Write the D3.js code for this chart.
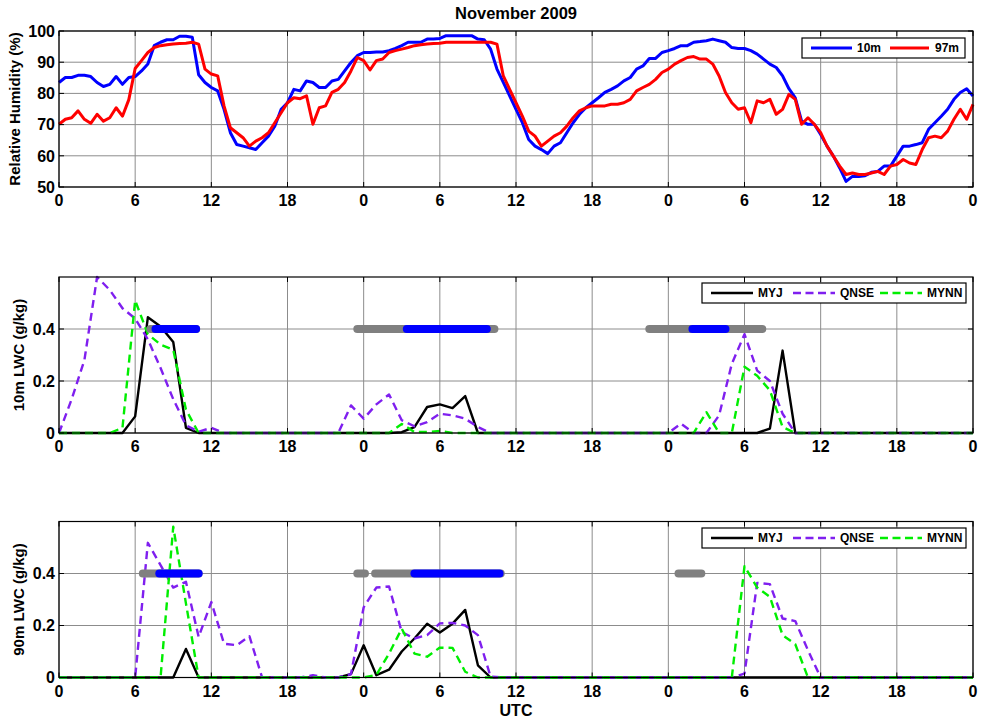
<!DOCTYPE html>
<html>
<head>
<meta charset="utf-8">
<script src="https://cdn.jsdelivr.net/npm/d3@7"></script>
<style>
  body { margin: 0; background: #fff; }
  svg { display: block; font-family: "Liberation Sans", Arial, sans-serif; font-weight: bold; }
</style>
</head>
<body>
<svg id="chart" width="981" height="719"></svg>
<script>
// ---- Data -------------------------------------------------------------
// Hour ticks over the three-day period (labels wrap at 24 h)
const hourTicks = [0, 6, 12, 18, 24, 30, 36, 42, 48, 54, 60, 66, 72];
const rhTicks = [50, 60, 70, 80, 90, 100];
const lwcTicks = [0, 0.2, 0.4];

// Relative humidity, half-hourly samples from hour 0 to 72
const rhHours = d3.range(0, 72.5, 0.5);
const rh10m = [
  83.5,85.1,85.1,85.8,85.8,85.4,83.5,82.2,82.9,85.4,82.9,85.1,
  85.4,87.2,89.4,95.3,96.4,97.2,97.2,98.3,98.3,98.0,86.0,83.5,
  81.9,80.8,74.9,67.4,63.6,63.1,62.6,62.0,64.2,66.3,69.5,74.9,
  77.0,81.3,80.8,84.0,83.5,81.9,81.9,84.0,84.5,87.2,89.9,92.1,
  93.1,93.1,93.3,93.3,93.7,94.4,95.3,96.4,96.4,96.4,97.4,97.4,
  97.6,98.5,98.5,98.5,98.5,98.5,97.4,97.2,94.2,87.8,83.5,79.2,
  74.9,70.6,65.2,63.1,62.0,60.7,63.1,64.2,67.4,70.6,73.3,75.4,
  77.0,78.6,80.3,81.3,82.4,84.0,85.1,87.8,88.8,91.2,91.2,93.1,
  93.7,94.4,95.3,95.3,96.4,96.6,96.9,97.4,96.9,96.4,94.7,94.4,
  94.4,93.7,92.6,91.0,89.4,88.3,85.6,81.5,78.6,71.1,70.1,70.1,
  66.8,63.1,59.9,56.1,51.8,53.4,53.4,53.6,54.7,55.0,56.7,56.7,
  59.9,63.1,63.1,63.6,64.2,68.5,70.6,72.7,74.9,78.1,80.3,81.5,
  79.2
];
const rh97m = [
  70.1,71.7,72.2,74.4,71.7,70.4,73.3,71.1,72.2,75.4,72.7,78.0,
  88.0,90.5,93.1,94.7,95.3,95.6,95.8,96.0,96.1,96.4,95.8,87.8,
  86.2,85.6,76.0,69.0,67.4,65.8,63.1,64.7,65.8,67.4,70.6,73.8,
  77.0,78.6,78.3,79.2,70.1,75.4,76.0,80.3,81.3,83.5,87.2,91.5,
  90.5,87.5,90.5,91.0,93.1,93.7,94.2,94.7,95.3,95.6,95.8,96.0,
  96.1,96.4,96.4,96.4,96.4,96.4,96.4,96.4,96.4,95.8,85.6,81.3,
  77.0,72.7,67.9,66.3,63.1,64.7,66.3,67.4,69.5,72.2,74.4,75.4,
  76.0,76.0,76.0,76.5,76.5,77.0,78.1,80.8,81.9,82.9,84.5,86.7,
  87.8,89.4,90.5,91.5,91.8,91.0,91.0,89.4,85.6,80.3,77.0,74.9,
  75.4,70.6,77.6,77.0,78.1,73.3,74.9,79.7,78.1,70.1,72.2,70.1,
  67.4,63.1,59.9,56.7,54.0,54.5,54.0,54.0,54.5,55.0,54.0,56.7,
  57.2,58.8,57.7,57.2,62.0,65.8,66.3,65.8,67.9,71.7,74.9,71.7,
  76.5
];

// Modelled liquid water content (g/kg), hourly from hour 0 to 72
const lwcHours = d3.range(0, 73);
const myj10 = [
  0,0,0,0,0,0,0.064,0.445,0.41,0.35,0.02,0,
  0,0,0,0,0,0,0,0,0,0,0,0,
  0,0,0,0.003,0.023,0.10,0.11,0.096,0.142,0,0,0,
  0,0,0,0,0,0,0,0,0,0,0,0,
  0,0,0,0,0,0,0,0,0.017,0.317,0,0,
  0,0,0,0,0,0,0,0,0,0,0,0,
  0
];
const qnse10 = [
  0,0.13,0.28,0.60,0.55,0.48,0.44,0.36,0.25,0.13,0.03,0.005,
  0.02,0,0,0,0,0,0,0,0,0,0,0.106,
  0.055,0.11,0.148,0.049,0.026,0.042,0.074,0.068,0.055,0.023,0,0,
  0,0,0,0,0,0,0,0,0,0,0,0,
  0,0.036,0,0,0.068,0.266,0.38,0.24,0.2,0.074,0,0,
  0,0,0,0,0,0,0,0,0,0,0,0,
  0
];
const mynn10 = [
  0,0,0,0,0,0.02,0.51,0.38,0.34,0.32,0.09,0,
  0,0,0,0,0,0,0,0,0,0,0,0,
  0,0,0,0.035,0.004,0.004,0.008,0,0,0,0,0,
  0,0,0,0,0,0,0,0,0,0,0,0,
  0,0,0,0.08,0,0,0.255,0.22,0.164,0.023,0,0,
  0,0,0,0,0,0,0,0,0,0,0,0,
  0
];
const myj90 = [
  0,0,0,0,0,0,0,0,0,0,0.11,0,
  0,0,0,0,0,0,0,0,0,0,0,0.013,
  0.124,0.009,0.03,0.10,0.15,0.207,0.173,0.207,0.26,0.047,0,0,
  0,0,0,0,0,0,0,0,0,0,0,0,
  0,0,0,0,0,0,0,0,0,0,0,0,
  0,0,0,0,0,0,0,0,0,0,0,0,
  0
];
const qnse90 = [
  0,0,0,0,0,0,0,0.518,0.432,0.346,0.368,0.156,
  0.29,0.13,0.124,0.159,0,0,0,0,0.009,0,0,0.013,
  0.27,0.346,0.35,0.175,0.15,0.163,0.208,0.21,0.2,0.163,0.003,0,
  0,0,0,0,0,0,0,0,0,0,0,0,
  0,0,0,0,0,0,0.015,0.364,0.359,0.227,0.217,0.105,
  0,0,0,0,0,0,0,0,0,0,0,0,
  0
];
const mynn90 = [
  0,0,0,0,0,0,0,0,0,0.58,0.285,0,
  0,0,0,0,0,0,0,0,0,0,0,0,
  0,0.01,0.092,0.188,0.092,0.08,0.115,0.114,0.022,0,0,0,
  0,0,0,0,0,0,0,0,0,0,0,0,
  0,0,0,0,0,0,0.428,0.346,0.31,0.163,0.128,0,
  0,0,0,0,0,0,0,0,0,0,0,0,
  0
];

// Observed fog periods (hours), drawn as bars at 0.4 g/kg
const fogLevel = 0.4;
const fog10Gray = [[7.2, 10.8], [23.5, 34.3], [46.5, 55.4]];
const fog10Blue = [[7.6, 10.8], [27.4, 33.7], [49.9, 52.5]];
const fog90Gray = [[6.6, 11.0], [23.5, 24.1], [24.9, 34.8], [48.8, 50.6]];
const fog90Blue = [[7.9, 11.0], [28.0, 34.7]];

// ---- Layout -------------------------------------------------------------
const svg = d3.select("#chart");
const left = 59, right = 973;
const x = d3.scaleLinear().domain([0, 72]).range([left, right]);

const panels = [
  { top: 31, bottom: 187, domain: [50, 100], ticks: rhTicks, fmt: d => d,
    label: "Relative Humidity (%)", labelX: 15 },
  { top: 277, bottom: 433, domain: [0, 0.6], ticks: lwcTicks, fmt: d => (d === 0 ? "0" : d.toFixed(1)),
    label: "10m LWC (g/kg)", labelX: 19 },
  { top: 521.5, bottom: 677.5, domain: [0, 0.6], ticks: lwcTicks, fmt: d => (d === 0 ? "0" : d.toFixed(1)),
    label: "90m LWC (g/kg)", labelX: 19 }
];

const gridColor = "#8c8c8c";
const tickLen = 5;

function drawFrame(p) {
  const y = d3.scaleLinear().domain(p.domain).range([p.bottom, p.top]);
  const g = svg.append("g");

  // grid
  hourTicks.forEach(h => {
    g.append("line").attr("x1", x(h)).attr("x2", x(h)).attr("y1", p.top).attr("y2", p.bottom)
      .attr("stroke", gridColor).attr("stroke-width", 1);
  });
  p.ticks.forEach(v => {
    g.append("line").attr("x1", left).attr("x2", right).attr("y1", y(v)).attr("y2", y(v))
      .attr("stroke", gridColor).attr("stroke-width", 1);
  });

  p.y = y;
  p.g = g;
  return p;
}

function drawAxes(p) {
  const y = p.y;
  const g = svg.append("g");
  // inward ticks on all four sides
  hourTicks.forEach(h => {
    g.append("line").attr("x1", x(h)).attr("x2", x(h)).attr("y1", p.bottom).attr("y2", p.bottom - tickLen).attr("stroke", "#000");
    g.append("line").attr("x1", x(h)).attr("x2", x(h)).attr("y1", p.top).attr("y2", p.top + tickLen).attr("stroke", "#000");
  });
  p.ticks.forEach(v => {
    g.append("line").attr("x1", left).attr("x2", left + tickLen).attr("y1", y(v)).attr("y2", y(v)).attr("stroke", "#000");
    g.append("line").attr("x1", right).attr("x2", right - tickLen).attr("y1", y(v)).attr("y2", y(v)).attr("stroke", "#000");
  });
  g.append("rect").attr("x", left).attr("y", p.top).attr("width", right - left).attr("height", p.bottom - p.top)
    .attr("fill", "none").attr("stroke", "#000").attr("stroke-width", 1.2);

  // tick labels
  g.selectAll(".xt").data(hourTicks).enter().append("text")
    .attr("x", d => x(d)).attr("y", p.bottom + 19)
    .attr("text-anchor", "middle").attr("font-size", 16)
    .text(d => d % 24);
  g.selectAll(".yt").data(p.ticks).enter().append("text")
    .attr("x", left - 4).attr("y", d => y(d)).attr("dy", "0.36em")
    .attr("text-anchor", "end").attr("font-size", 16)
    .text(p.fmt);

  // axis label
  const cy = (p.top + p.bottom) / 2;
  g.append("text")
    .attr("transform", `translate(${p.labelX},${cy}) rotate(-90)`)
    .attr("text-anchor", "middle").attr("dy", "0.35em").attr("font-size", 15)
    .text(p.label);
}

function drawLine(p, xs, ys, color, width, dash) {
  const line = d3.line().x((d, i) => x(xs[i])).y(d => p.y(d));
  svg.append("path").datum(ys)
    .attr("d", line)
    .attr("fill", "none").attr("stroke", color).attr("stroke-width", width)
    .attr("stroke-linejoin", "round")
    .attr("stroke-dasharray", dash || null);
}

function drawBars(p, gray, blue) {
  const yy = p.y(fogLevel);
  gray.forEach(([a, b]) => {
    svg.append("line").attr("x1", x(a)).attr("x2", x(b)).attr("y1", yy).attr("y2", yy)
      .attr("stroke", "#808080").attr("stroke-width", 8).attr("stroke-linecap", "round");
  });
  blue.forEach(([a, b]) => {
    svg.append("line").attr("x1", x(a)).attr("x2", x(b)).attr("y1", yy).attr("y2", yy)
      .attr("stroke", "#0000ff").attr("stroke-width", 8).attr("stroke-linecap", "round");
  });
}

function drawLegend(bx, by, bw, bh, items) {
  const g = svg.append("g");
  g.append("rect").attr("x", bx).attr("y", by).attr("width", bw).attr("height", bh)
    .attr("fill", "#fff").attr("stroke", "#000").attr("stroke-width", 1.2);
  const ly = by + bh / 2;
  items.forEach(it => {
    g.append("line").attr("x1", it.x1).attr("x2", it.x2).attr("y1", ly).attr("y2", ly)
      .attr("stroke", it.color).attr("stroke-width", it.width)
      .attr("stroke-dasharray", it.dash || null);
    g.append("text").attr("x", it.tx).attr("y", ly).attr("dy", "0.36em")
      .attr("font-size", 12).text(it.label);
  });
}

panels.forEach(drawFrame);

// Panel 1: relative humidity
const p1 = panels[0];
drawLine(p1, rhHours, rh10m, "#0000ff", 3);
drawLine(p1, rhHours, rh97m, "#ff0000", 3);

// Panels 2 and 3: liquid water content
const purple = "#7f1fef";
const green = "#00ee00";
const dash = "8,5";
const p2 = panels[1];
drawLine(p2, lwcHours, myj10, "#000", 2.4);
drawLine(p2, lwcHours, qnse10, purple, 2.4, dash);
drawLine(p2, lwcHours, mynn10, green, 2.4, dash);
drawBars(p2, fog10Gray, fog10Blue);

const p3 = panels[2];
drawLine(p3, lwcHours, myj90, "#000", 2.4);
drawLine(p3, lwcHours, qnse90, purple, 2.4, dash);
drawLine(p3, lwcHours, mynn90, green, 2.4, dash);
drawBars(p3, fog90Gray, fog90Blue);

panels.forEach(drawAxes);

// Legends
drawLegend(802, 38, 163, 20, [
  { x1: 811, x2: 852, tx: 857, color: "#0000ff", width: 3, label: "10m" },
  { x1: 890, x2: 929, tx: 935, color: "#ff0000", width: 3, label: "97m" }
]);
const lwcLegend = [
  { x1: 711, x2: 753, tx: 758, color: "#000", width: 2.4, label: "MYJ" },
  { x1: 793, x2: 835, tx: 840, color: purple, width: 2.4, dash: "8,4.5", label: "QNSE" },
  { x1: 880, x2: 922, tx: 927, color: green, width: 2.4, dash: "8,4.5", label: "MYNN" }
];
drawLegend(702, 283, 264, 20, lwcLegend);
drawLegend(702, 528, 264, 20, lwcLegend);

// Title and shared x label
svg.append("text").attr("x", (left + right) / 2).attr("y", 19)
  .attr("text-anchor", "middle").attr("font-size", 16.5).text("November 2009");
svg.append("text").attr("x", (left + right) / 2).attr("y", 716)
  .attr("text-anchor", "middle").attr("font-size", 16).text("UTC");
</script>
</body>
</html>
